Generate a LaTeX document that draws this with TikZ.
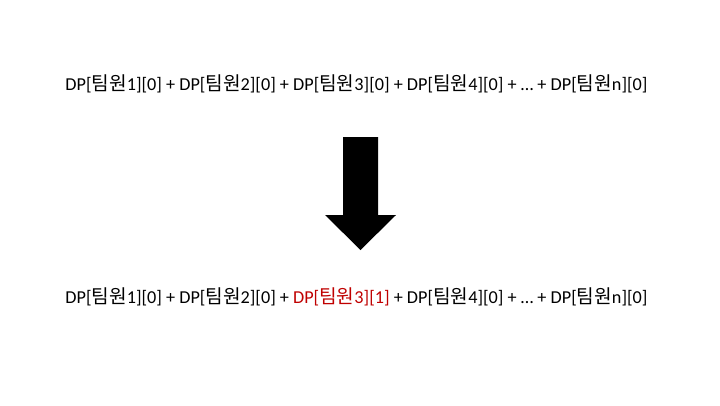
\documentclass[tikz,border=0pt]{standalone}
\usepackage{fontspec}
\setmainfont{Carlito}
\newfontfamily\kr{Noto Sans CJK KR}[Scale=1.05]
\definecolor{dpred}{RGB}{192,0,0}
\newcommand{\tw}{{\kr 팀원}}
\begin{document}
\begin{tikzpicture}[x=1pt,y=-1pt,
  eq/.style={font=\fontsize{18.2}{20}\selectfont, inner sep=0pt, anchor=base}]
\useasboundingbox (0,0) rectangle (720,405);
\fill[white] (0,0) rectangle (720,405);
\node[eq] (top) at (356.5,90) {DP[\tw1][0] + DP[\tw2][0] + DP[\tw3][0] + DP[\tw4][0] + … + DP[\tw n][0]};
\node[eq] (bot) at (356.5,303) {DP[\tw1][0] + DP[\tw2][0] + \textcolor{dpred}{DP[\tw3][1]} + DP[\tw4][0] + … + DP[\tw n][0]};
\fill[black] (343,137) -- (378,137) -- (378,215) -- (396,215) -- (360.5,250) -- (325,215) -- (343,215) -- cycle;
\end{tikzpicture}
\end{document}
